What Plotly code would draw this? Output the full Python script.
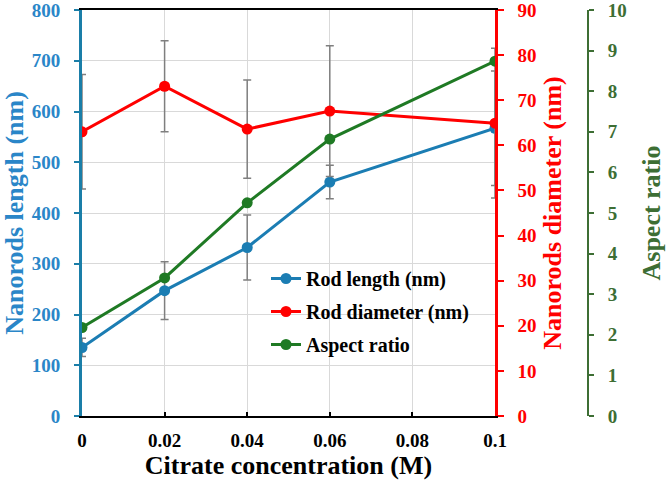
import plotly.graph_objects as go

conc = [0, 0.02, 0.04, 0.06, 0.1]
rod_length = [135, 247, 332, 461, 567]
rod_length_err = [18, 57, 64, 33, 113]
rod_diameter = [63.0, 73.1, 63.6, 67.6, 64.9]
rod_diameter_err = [12.7, 10.1, 10.9, 14.5, 16.6]
aspect_ratio = [2.18, 3.40, 5.25, 6.82, 8.74]

x_ticks = [0, 0.02, 0.04, 0.06, 0.08, 0.1]
x_ticktext = ["0", "0.02", "0.04", "0.06", "0.08", "0.1"]

BLUE = "#1b7db3"
BLUE_AX = "#1a7ea8"
BLUE_TXT = "#2a86c8"
RED = "#ff0000"
GREEN = "#1f7a24"
GREEN_AX = "#3d6e34"
GRAY = "#7f7f7f"
FONT = "'Liberation Serif', 'Times New Roman', serif"

fig = go.Figure()

fig.add_trace(go.Scatter(
    x=conc, y=rod_length, name="Rod length (nm)", mode="lines+markers",
    line=dict(color=BLUE, width=3), marker=dict(color=BLUE, size=11),
    error_y=dict(type="data", array=rod_length_err, color=GRAY, thickness=1.5, width=4),
    legendgroup="a", yaxis="y"))
fig.add_trace(go.Scatter(
    x=conc, y=rod_diameter, name="Rod diameter (nm)", mode="lines+markers",
    line=dict(color=RED, width=3), marker=dict(color=RED, size=11),
    error_y=dict(type="data", array=rod_diameter_err, color=GRAY, thickness=1.5, width=4),
    legendgroup="b", yaxis="y2"))
fig.add_trace(go.Scatter(
    x=conc, y=aspect_ratio, name="Aspect ratio", mode="lines+markers",
    line=dict(color=GREEN, width=3), marker=dict(color=GREEN, size=11),
    legendgroup="c", yaxis="y3"))

W, H = 666, 484
ml, mr, mt, mb = 82, 20, 10, 68
pw = W - ml - mr
ph = H - mt - mb
plot_w = 495 - 82
xdom = plot_w / pw
green_pos = (588 - ml) / pw

TICK = 19
TITLE = 26

fig.update_layout(
    width=W, height=H,
    margin=dict(l=ml, r=mr, t=mt, b=mb),
    paper_bgcolor="white", plot_bgcolor="white",
    font=dict(family=FONT, size=16, color="black", weight="bold"),
    xaxis=dict(
        domain=[0, xdom], range=[0, 0.1], tickvals=x_ticks, ticktext=x_ticktext,
        showline=True, linecolor="black", linewidth=2, mirror=True,
        ticks="inside", ticklen=4, tickcolor="black", tickwidth=1.5,
        showgrid=True, gridcolor="#d9d9d9", gridwidth=1, zeroline=False,
        automargin=False, ticklabelstandoff=6, ticklabeloverflow="allow",
        tickfont=dict(family=FONT, size=TICK, color="black", weight="bold"),
        title=dict(text="Citrate concentration (M)", standoff=4,
                   font=dict(family=FONT, size=TITLE, color="black", weight="bold")),
    ),
    yaxis=dict(
        range=[0, 800], dtick=100,
        showline=True, linecolor=BLUE_AX, linewidth=3,
        ticks="outside", ticklen=5, tickcolor=BLUE_AX, tickwidth=1.5,
        showgrid=True, gridcolor="#d9d9d9", gridwidth=1, zeroline=False,
        automargin=False, ticklabelstandoff=10, ticklabeloverflow="allow",
        tickfont=dict(family=FONT, size=TICK, color=BLUE_TXT, weight="bold"),
        title=dict(text="Nanorods length (nm)", standoff=6,
                   font=dict(family=FONT, size=TITLE, color=BLUE_TXT, weight="bold")),
    ),
    yaxis2=dict(
        range=[0, 90], dtick=10, overlaying="y", side="right", anchor="x",
        showline=True, linecolor=RED, linewidth=2.5,
        ticks="outside", ticklen=6, tickcolor=RED, tickwidth=1.5,
        showgrid=False, zeroline=False,
        automargin=False, ticklabelstandoff=10, ticklabeloverflow="allow",
        tickfont=dict(family=FONT, size=TICK, color=RED, weight="bold"),
        title=dict(text="Nanorods diameter (nm)", standoff=8,
                   font=dict(family=FONT, size=TITLE, color=RED, weight="bold")),
    ),
    yaxis3=dict(
        range=[0, 10], dtick=1, overlaying="y", side="right", anchor="free",
        position=green_pos,
        showline=True, linecolor=GREEN_AX, linewidth=2,
        ticks="outside", ticklen=5, tickcolor=GREEN_AX, tickwidth=1.5,
        showgrid=False, zeroline=False,
        automargin=False, ticklabelstandoff=10, ticklabeloverflow="allow",
        tickfont=dict(family=FONT, size=TICK, color=GREEN_AX, weight="bold"),
        title=dict(text="Aspect ratio", standoff=18,
                   font=dict(family=FONT, size=TITLE, color=GREEN_AX, weight="bold")),
    ),
    legend=dict(
        x=(266 - ml) / pw, y=(416 - 259) / ph, xanchor="left", yanchor="top",
        bgcolor="rgba(0,0,0,0)", traceorder="grouped", tracegroupgap=4,
        font=dict(family=FONT, size=20, color="black", weight="bold"),
    ),
    showlegend=True,
)

fig.write_html("out.html")
